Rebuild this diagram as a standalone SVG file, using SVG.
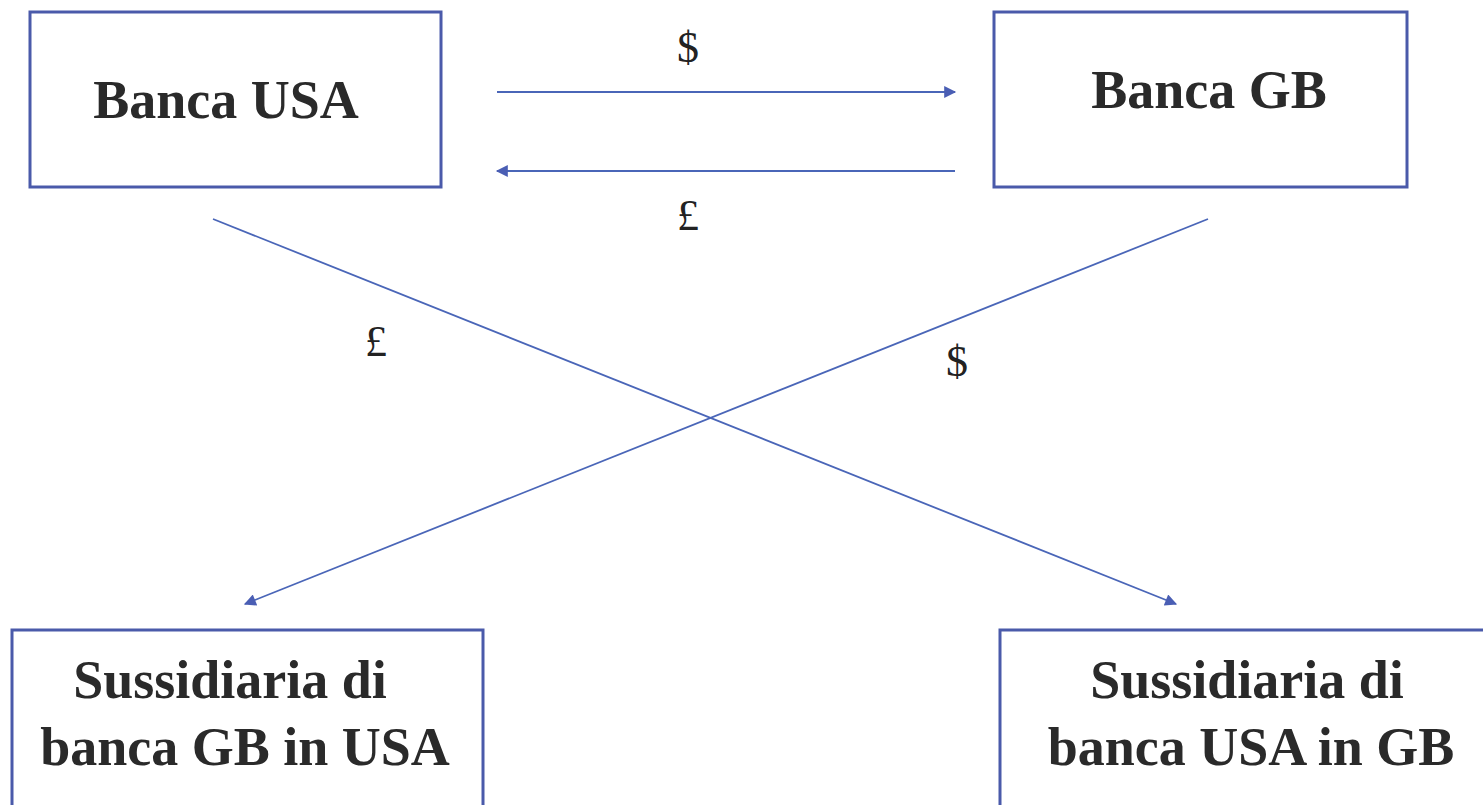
<svg xmlns="http://www.w3.org/2000/svg" width="1483" height="805" viewBox="0 0 1483 805">
<style>
.box{fill:#ffffff;stroke:#4a5aaa;stroke-width:3}
.t{font-family:"Liberation Serif",serif;font-weight:bold;font-size:54px;fill:#2a2a2a;text-anchor:middle}
.c{font-family:"Liberation Serif",serif;font-size:44px;fill:#222;text-anchor:middle}
.ln{stroke:#4a66b8;stroke-width:1.8;fill:none;marker-end:url(#ah)}
</style>
<defs>
<marker id="ah" viewBox="0 0 10 10" refX="9" refY="5" markerWidth="14" markerHeight="12" markerUnits="userSpaceOnUse" orient="auto">
<path d="M0,0 L10,5 L0,10 z" fill="#4a5eb4"/>
</marker>
</defs>
<rect width="1483" height="805" fill="#ffffff"/>
<g id="connectors">
<line class="ln" x1="497" y1="92" x2="955" y2="92"/>
<line class="ln" x1="955" y1="171" x2="497" y2="171"/>
<line class="ln" x1="213" y1="219" x2="1176" y2="604"/>
<line class="ln" x1="1208" y1="219" x2="245" y2="604"/>
<text class="c" x="688" y="62">$</text>
<text class="c" x="688" y="230">£</text>
<text class="c" x="376" y="356">£</text>
<text class="c" x="957" y="376">$</text>
</g>
<g id="banca-usa">
<rect class="box" x="30" y="12" width="411" height="175"/>
<text class="t" x="226" y="118">Banca USA</text>
</g>
<g id="banca-gb">
<rect class="box" x="994" y="12" width="413" height="175"/>
<text class="t" x="1209" y="108">Banca GB</text>
</g>
<g id="sussidiaria-gb-usa">
<rect class="box" x="12" y="630" width="471" height="190"/>
<text class="t" x="230" y="698">Sussidiaria di</text>
<text class="t" x="245" y="765">banca GB in USA</text>
</g>
<g id="sussidiaria-usa-gb">
<rect class="box" x="1000" y="630" width="500" height="190"/>
<text class="t" x="1247" y="698">Sussidiaria di</text>
<text class="t" x="1251" y="765">banca USA in GB</text>
</g>
</svg>
